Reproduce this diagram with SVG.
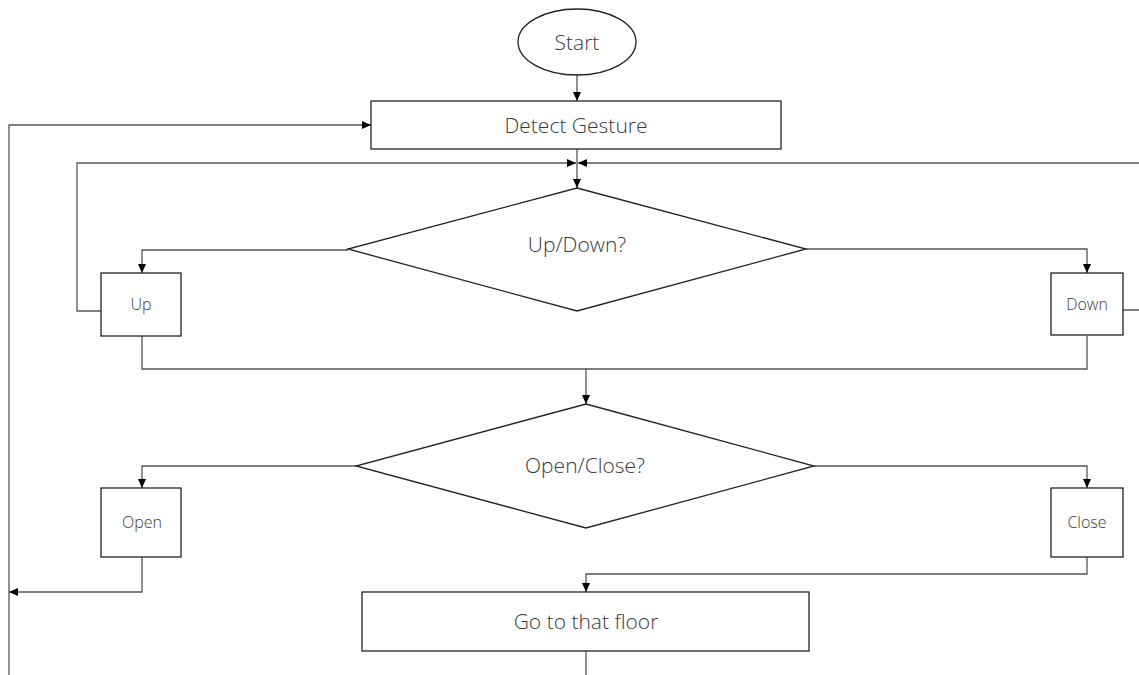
<svg xmlns="http://www.w3.org/2000/svg" width="1139" height="675" viewBox="0 0 1139 675">
<style>
.shape{fill:#ffffff;stroke:#222;stroke-width:1.3}
.conn{fill:none;stroke:#555;stroke-width:1.3}
.t{font-family:"Open Sans","Noto Sans",sans-serif;font-weight:300;fill:#3a3a3a;text-anchor:middle;dominant-baseline:central}
.big{font-size:21px}
.small{font-size:16px}
</style>
<defs>
<marker id="arr" markerWidth="10" markerHeight="10" refX="9" refY="5" orient="auto" markerUnits="userSpaceOnUse" viewBox="0 0 10 10">
<path d="M0,1 L9,5 L0,9 Z" fill="#000"/>
</marker>
</defs>
<rect width="1139" height="675" fill="#ffffff"/>
<g id="connectors">
<path class="conn" d="M577,75 V101" marker-end="url(#arr)"/>
<path class="conn" d="M577,149 V188" marker-end="url(#arr)"/>
<path class="conn" d="M348,250 H142 V273" marker-end="url(#arr)"/>
<path class="conn" d="M806,249 H1087 V273" marker-end="url(#arr)"/>
<path class="conn" d="M101,311 H77 V163 H576" marker-end="url(#arr)"/>
<path class="conn" d="M1123,310 H1150 V163 H578" marker-end="url(#arr)"/>
<path class="conn" d="M142,336 V369 H586 V404" marker-end="url(#arr)"/>
<path class="conn" d="M1087,336 V369 H586"/>
<path class="conn" d="M356,466 H142 V488" marker-end="url(#arr)"/>
<path class="conn" d="M814,466 H1087 V488" marker-end="url(#arr)"/>
<path class="conn" d="M142,557 V592 H9" marker-end="url(#arr)"/>
<path class="conn" d="M1087,557 V574 H586 V592" marker-end="url(#arr)"/>
<path class="conn" d="M586,651 V690 H9 V125 H371" marker-end="url(#arr)"/>
</g>
<g id="start">
<ellipse class="shape" cx="577" cy="42" rx="59" ry="33"/>
<text class="t big" x="577" y="42">Start</text>
</g>
<g id="detect">
<rect class="shape" x="371" y="101" width="410" height="48"/>
<text class="t big" x="576" y="125">Detect Gesture</text>
</g>
<g id="updown">
<polygon class="shape" points="577,188 806,249 577,311 348,249"/>
<text class="t big" x="577" y="244">Up/Down?</text>
</g>
<g id="up">
<rect class="shape" x="101" y="273" width="80" height="63"/>
<text class="t small" x="141" y="304">Up</text>
</g>
<g id="down">
<rect class="shape" x="1051" y="273" width="72" height="62"/>
<text class="t small" x="1087" y="304">Down</text>
</g>
<g id="openclose">
<polygon class="shape" points="586,404 814,466 586,528 356,466"/>
<text class="t big" x="585" y="465">Open/Close?</text>
</g>
<g id="open">
<rect class="shape" x="101" y="488" width="80" height="69"/>
<text class="t small" x="142" y="522">Open</text>
</g>
<g id="close">
<rect class="shape" x="1051" y="488" width="72" height="69"/>
<text class="t small" x="1087" y="522">Close</text>
</g>
<g id="gofloor">
<rect class="shape" x="362" y="592" width="447" height="59"/>
<text class="t big" x="586" y="621">Go to that floor</text>
</g>
</svg>
